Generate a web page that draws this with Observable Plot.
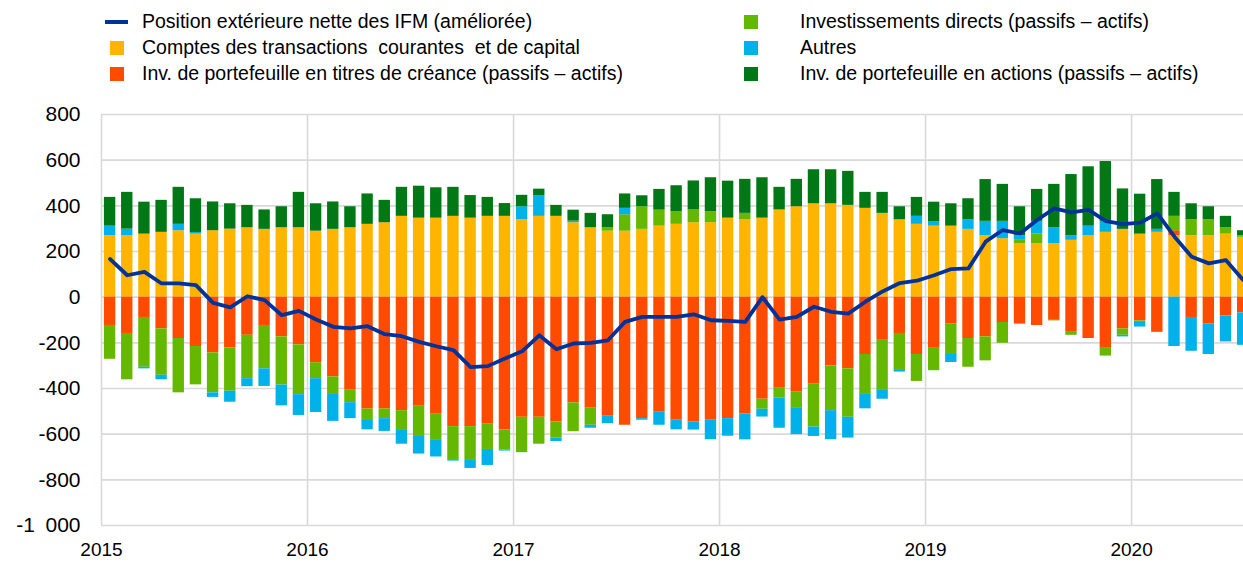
<!DOCTYPE html>
<html><head><meta charset="utf-8">
<script src="https://cdn.jsdelivr.net/npm/d3@7"></script>
<script src="https://cdn.jsdelivr.net/npm/@observablehq/plot@0.6"></script>
<style>
body{margin:0;background:#fff;font-family:"Liberation Sans",Arial,sans-serif;}
#wrap{position:relative;width:1243px;height:567px;overflow:hidden;background:#fff}
.lt{position:absolute;font-size:19.5px;color:#000;white-space:pre;line-height:1;}
.sw{position:absolute;}
#chart{position:absolute;left:0;top:100px}
</style></head><body>
<div id="wrap"><div id="legend"></div><div id="chart"></div></div>
<script>
// Months Jan 2015 .. Jul 2020 (67 bars)
const months = d3.utcMonths(new Date(Date.UTC(2015,0,1)), new Date(Date.UTC(2020,7,1))).map(d => d3.utcFormat("%Y-%m")(d));
const yearTickIdx = [0, 12, 24, 36, 48, 60];
const yearLabels = ["2015", "2016", "2017", "2018", "2019", "2020"];
const yTicks = [-1000, -800, -600, -400, -200, 0, 200, 400, 600, 800];

const seriesNames = [
  "Comptes des transactions  courantes  et de capital",
  "Inv. de portefeuille en titres de créance (passifs – actifs)",
  "Investissements directs (passifs – actifs)",
  "Autres",
  "Inv. de portefeuille en actions (passifs – actifs)"
];
const lineName = "Position extérieure nette des IFM (améliorée)";
const seriesColors = ["#FFB400", "#FF4B00", "#65B800", "#00B1EA", "#007816"];
const lineColor = "#003299";

const currentCapital = [269,269,276,284,291,276,291,298,304,297,304,304,
  289,297,304,319,326,354,346,346,354,346,354,354,
  339,354,354,326,304,289,289,297,311,319,326,326,
  346,339,346,382,396,409,409,402,389,367,339,319,
  311,311,297,269,256,234,234,234,249,269,284,297,
  276,284,269,269,269,276,262];
const debtPortfolio = [-124,-159,-89,-139,-181,-216,-244,-222,-167,-124,-174,-209,
  -287,-349,-405,-490,-490,-497,-475,-510,-567,-567,-554,-582,
  -526,-526,-547,-463,-484,-519,-561,-532,-504,-539,-547,-539,
  -532,-512,-447,-399,-414,-379,-301,-314,-251,-189,-159,-251,
  -224,-118,-181,-174,-111,-118,-124,-98,-154,-181,-224,-139,
  -104,-154,22,-89,-118,-82,-69];
const directInv = [-148,-203,-218,-203,-238,-168,-175,-190,-190,-190,-211,-218,
  -70,-77,-57,-50,-42,-83,-135,-114,-148,-148,-113,-88,
  -155,-118,-70,-126,-77,15,72,99,70,56,56,48,
  0,28,-44,-42,-70,-190,-196,-212,-175,-216,-162,-118,
  -98,-133,-126,-105,-91,15,42,-6,-13,0,-34,-28,
  -7,0,63,70,70,28,7];
const others = [42,29,-7,-20,28,7,-20,-48,-35,-77,-91,-91,
  -148,-118,-70,-41,-56,-64,-77,-76,-3,-35,-70,-4,
  57,91,-15,7,-13,-35,28,-7,-57,-42,-35,-85,
  -77,-113,-34,-133,-118,-41,-127,-91,-63,-42,-7,35,
  20,-35,42,63,76,20,56,70,20,42,48,-7,
  -20,13,-216,-148,-133,-114,-142];
const equityPortfolio = [126,161,140,140,162,148,126,111,98,85,92,155,
  120,120,92,133,98,127,140,133,127,99,83,56,
  50,28,48,48,63,57,63,48,91,113,127,149,
  162,149,177,99,120,149,149,149,70,92,57,83,
  85,98,92,183,162,127,140,190,268,260,262,177,
  175,218,105,70,57,50,22];
const mfiPosition = [167,96,111,60,60,53,-25,-45,4,-13,-79,-60,
  -98,-130,-137,-127,-162,-171,-196,-215,-232,-306,-302,-269,
  -237,-167,-228,-203,-200,-189,-108,-86,-86,-86,-75,-101,
  -104,-108,0,-98,-86,-42,-64,-72,-20,25,62,72,
  96,123,126,243,294,279,338,389,371,382,333,320,
  326,367,265,177,148,162,75];

const seriesValues = [currentCapital, debtPortfolio, directInv, others, equityPortfolio];

const rows = [];
months.forEach((m, i) => {
  seriesValues.forEach((vals, s) => {
    rows.push({i, i2: i + 1, month: m, series: seriesNames[s], value: vals[i]});
  });
});
const lineRows = months.map((m, i) => ({i: i + 0.5, value: mfiPosition[i]}));

const fmt = d => (d < 0 ? "-" : "") + d3.format(",")(Math.abs(d)).replace(/,/g, "\u2002");

const chart = Plot.plot({
  width: 1243,
  height: 467,
  marginLeft: 101,
  marginRight: 0,
  marginTop: 14,
  marginBottom: 42,
  style: {fontFamily: "Liberation Sans, Arial, sans-serif", fontSize: "19px", color: "#000", background: "#fff"},
  x: {type: "linear", domain: [0, 66.52], label: null},
  y: {domain: [-1000, 800], label: null},
  color: {domain: seriesNames, range: seriesColors},
  marks: [
    Plot.ruleY(yTicks, {stroke: "#d9d9d9", strokeWidth: 1.6}),
    Plot.ruleX(yearTickIdx, {stroke: "#d9d9d9", strokeWidth: 1.6}),
    Plot.axisY({ticks: yTicks, tickFormat: fmt, tickSize: 0, tickPadding: 21, fontSize: 21, label: null}),
    Plot.axisX({ticks: yearTickIdx, tickFormat: (d) => yearLabels[yearTickIdx.indexOf(d)], tickSize: 0, tickPadding: 17, fontSize: 19, label: null}),
    Plot.rectY(rows, Plot.stackY({x1: "i", x2: "i2", y: "value", fill: "series", z: "series", order: seriesNames, insetLeft: 2.9, insetRight: 2.9})),
    Plot.line(lineRows, {x: "i", y: "value", stroke: lineColor, strokeWidth: 3.8, strokeLinejoin: "round", strokeLinecap: "round"})
  ]
});
document.getElementById("chart").appendChild(chart);

// Legend
const leg = document.getElementById("legend");
const legendItems = [
  {label: lineName, color: lineColor, type: "line", x: 105, tx: 142, y: 22},
  {label: seriesNames[0], color: seriesColors[0], type: "sq", x: 110, tx: 142, y: 48},
  {label: seriesNames[1], color: seriesColors[1], type: "sq", x: 110, tx: 142, y: 74},
  {label: seriesNames[2], color: seriesColors[2], type: "sq", x: 744, tx: 800, y: 22},
  {label: seriesNames[3], color: seriesColors[3], type: "sq", x: 744, tx: 800, y: 48},
  {label: seriesNames[4], color: seriesColors[4], type: "sq", x: 744, tx: 800, y: 74}
];
legendItems.forEach(it => {
  const s = document.createElement("div");
  s.className = "sw";
  if (it.type === "line") {
    Object.assign(s.style, {left: it.x + "px", top: (it.y - 2) + "px", width: "23px", height: "4px", background: it.color});
  } else {
    Object.assign(s.style, {left: it.x + "px", top: (it.y - 7) + "px", width: "14px", height: "14px", background: it.color});
  }
  leg.appendChild(s);
  const t = document.createElement("div");
  t.className = "lt";
  t.textContent = it.label;
  Object.assign(t.style, {left: it.tx + "px", top: (it.y - 10) + "px"});
  leg.appendChild(t);
});
</script>
</body></html>
